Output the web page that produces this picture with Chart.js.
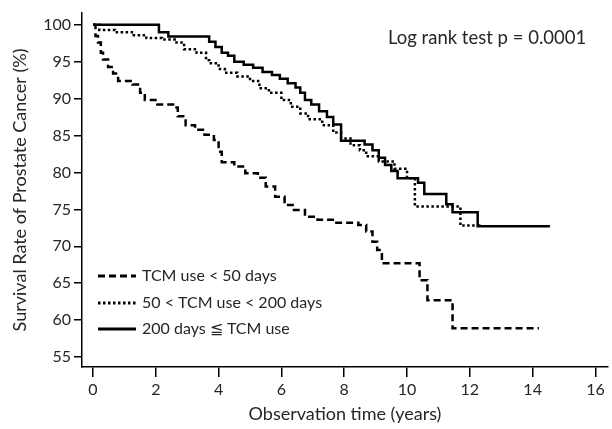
<!DOCTYPE html>
<html lang="en">
<head>
<meta charset="UTF-8">
<title>Survival Rate of Prostate Cancer</title>
<script src="https://cdn.jsdelivr.net/npm/chart.js@4.4.0/dist/chart.umd.min.js"></script>
<style>
  html, body { margin: 0; padding: 0; background: #fff; }
  #wrap { width: 612px; height: 429px; }
</style>
</head>
<body>
<div id="wrap"><canvas id="kmChart"></canvas></div>
<script>
// Kaplan-Meier curves (time in years, survival in %)
const lowTimes = [0, 0.08, 0.16, 0.25, 0.32, 0.48, 0.64, 0.8, 1.25, 1.5, 1.65, 2.05, 2.55, 2.7, 2.95, 3.25, 3.55, 3.85, 4.0, 4.1, 4.5, 4.85, 5.25, 5.5, 5.8, 6.1, 6.4, 6.75, 7.15, 7.7, 8.45, 8.7, 8.9, 9.05, 9.2, 10.4, 10.65, 11.45, 14.2];
const lowValues = [100, 98.5, 97.6, 96.2, 95.3, 94.3, 93.4, 92.4, 91.9, 90.8, 89.8, 89.2, 88.8, 87.6, 86.4, 85.8, 85.1, 84.4, 82.8, 81.4, 80.8, 79.9, 79.3, 78.1, 76.7, 75.6, 74.9, 74.0, 73.6, 73.2, 72.9, 72.0, 70.6, 69.5, 67.7, 65.4, 62.7, 58.9, 58.9];

const midTimes = [0, 0.2, 0.7, 1.3, 1.7, 2.2, 2.6, 2.9, 3.3, 3.6, 3.7, 4.0, 4.2, 4.6, 5.0, 5.3, 5.6, 6.0, 6.3, 6.6, 6.85, 7.3, 7.65, 7.9, 8.2, 8.5, 8.7, 9.1, 9.6, 10.0, 10.25, 11.7, 12.3];
const midValues = [100, 99.3, 99.0, 98.6, 98.2, 98.0, 97.6, 96.7, 96.2, 95.2, 94.8, 94.0, 93.5, 93.0, 92.4, 91.4, 90.8, 89.8, 88.9, 88.0, 87.2, 86.4, 85.4, 84.6, 83.7, 83.0, 82.2, 81.5, 80.5, 79.2, 75.4, 72.8, 72.7];

const highTimes = [0, 2.1, 2.4, 3.7, 3.9, 4.1, 4.3, 4.5, 4.8, 5.1, 5.4, 5.7, 5.95, 6.2, 6.45, 6.6, 6.75, 6.95, 7.2, 7.45, 7.65, 7.9, 8.65, 8.9, 9.1, 9.3, 9.5, 9.7, 10.35, 10.55, 11.25, 11.45, 12.25, 14.55];
const highValues = [100, 99.0, 98.4, 97.7, 97.0, 96.2, 95.8, 95.0, 94.6, 94.2, 93.6, 93.2, 92.7, 92.1, 91.5, 90.8, 89.8, 89.2, 88.3, 87.5, 86.5, 84.3, 83.8, 83.0, 82.0, 81.0, 80.2, 79.2, 78.6, 77.1, 75.7, 74.6, 72.7, 72.7];

const seriesLabels = ['TCM use < 50 days', '50 < TCM use < 200 days', '200 days \u2266 TCM use'];
const xTicks = [0, 2, 4, 6, 8, 10, 12, 14, 16];
const yTicks = [55, 60, 65, 70, 75, 80, 85, 90, 95, 100];
const annotationText = 'Log rank test p = 0.0001';

const toPoints = (times, values) => times.map((t, i) => ({ x: t, y: values[i] }));

const textColor = '#262626';
const fontFamily = 'Lato, "Open Sans", sans-serif';

// legend + p-value drawn inside the plot area
const insideText = {
  id: 'insideText',
  afterDatasetsDraw(chart) {
    const { ctx, chartArea } = chart;
    ctx.save();
    ctx.fillStyle = textColor;
    ctx.textBaseline = 'middle';
    ctx.textAlign = 'left';
    ctx.font = '18.5px ' + fontFamily;
    ctx.fillText(annotationText, chartArea.left + 306, chartArea.top + 25);

    ctx.font = '16px ' + fontFamily;
    const rows = [263, 290, 316];
    chart.data.datasets.forEach((ds, i) => {
      const y = chartArea.top + rows[i];
      const x0 = chartArea.left + 16;
      ctx.beginPath();
      ctx.strokeStyle = ds.borderColor;
      ctx.lineWidth = ds.borderWidth + 0.5;
      ctx.setLineDash(ds.borderDash || []);
      ctx.moveTo(x0, y);
      ctx.lineTo(x0 + 38, y);
      ctx.stroke();
      ctx.setLineDash([]);
      ctx.fillText(ds.label, x0 + 44, y);
    });
    ctx.restore();
  }
};

const ctx = document.getElementById('kmChart').getContext('2d');

new Chart(ctx, {
  type: 'line',
  data: {
    datasets: [
      {
        label: seriesLabels[0],
        data: toPoints(lowTimes, lowValues),
        borderColor: '#000',
        borderWidth: 2.5,
        borderDash: [7, 4],
        stepped: 'before',
        pointRadius: 0,
        fill: false
      },
      {
        label: seriesLabels[1],
        data: toPoints(midTimes, midValues),
        borderColor: '#000',
        borderWidth: 2.5,
        borderDash: [2.5, 2.5],
        stepped: 'before',
        pointRadius: 0,
        fill: false
      },
      {
        label: seriesLabels[2],
        data: toPoints(highTimes, highValues),
        borderColor: '#000',
        borderWidth: 2.5,
        stepped: 'before',
        pointRadius: 0,
        fill: false
      }
    ]
  },
  options: {
    responsive: true,
    maintainAspectRatio: false,
    animation: false,
    layout: { padding: { top: 13, right: 4, left: 0, bottom: 0 } },
    plugins: {
      legend: { display: false },
      tooltip: { enabled: false }
    },
    scales: {
      x: {
        type: 'linear',
        min: -0.35,
        max: 16.4,
        afterBuildTicks: (scale) => { scale.ticks = xTicks.map(v => ({ value: v })); },
        afterFit: (scale) => { scale.height = 62; },
        grid: { drawOnChartArea: false, drawTicks: true, tickLength: 10, color: '#000', lineWidth: 1.5 },
        border: { display: true, color: '#000', width: 1.5 },
        ticks: { color: textColor, font: { family: fontFamily, size: 16 }, padding: 3, maxRotation: 0, autoSkip: false },
        title: {
          display: true,
          text: 'Observation time (years)',
          color: textColor,
          font: { family: fontFamily, size: 18 },
          padding: { top: 0, bottom: 4 }
        }
      },
      y: {
        min: 53.65,
        max: 101.6,
        afterBuildTicks: (scale) => { scale.ticks = yTicks.map(v => ({ value: v })); },
        afterFit: (scale) => { scale.width = 82; },
        grid: { drawOnChartArea: false, drawTicks: true, tickLength: 8, color: '#000', lineWidth: 1.5 },
        border: { display: true, color: '#000', width: 1.5 },
        ticks: { color: textColor, font: { family: fontFamily, size: 16 }, padding: 3, autoSkip: false },
        title: {
          display: true,
          text: 'Survival Rate of Prostate Cancer (%)',
          color: textColor,
          font: { family: fontFamily, size: 18 },
          padding: { top: 9, bottom: 0 }
        }
      }
    }
  },
  plugins: [insideText]
});
</script>
</body>
</html>
